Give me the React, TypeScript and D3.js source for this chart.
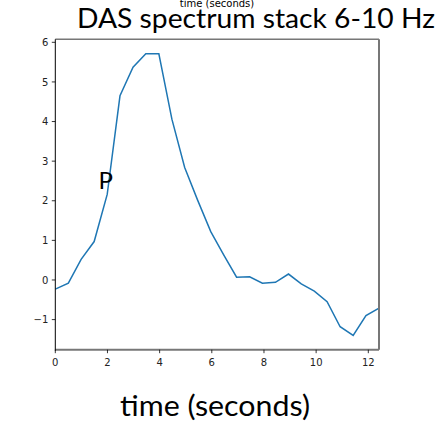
import React from "react";
import * as d3 from "d3";

const times = [0, 0.5, 0.99, 1.49, 1.99, 2.48, 2.98, 3.47, 3.97, 4.47, 4.96, 5.46, 5.96, 6.45, 6.95, 7.45, 7.94, 8.44, 8.94, 9.43, 9.93, 10.42, 10.92, 11.42, 11.91, 12.41];
const values = [-0.23, -0.08, 0.52, 0.97, 2.16, 4.65, 5.37, 5.71, 5.71, 4.06, 2.84, 2.01, 1.22, 0.64, 0.07, 0.08, -0.08, -0.06, 0.15, -0.1, -0.28, -0.55, -1.18, -1.4, -0.9, -0.71];
const xTicks = [0, 2, 4, 6, 8, 10, 12];
const yTicks = [-1, 0, 1, 2, 3, 4, 5, 6];
const title = "DAS spectrum stack 6-10 Hz";
const xLabel = "time (seconds)";
const phaseLabel = "P";

export default function App() {
  const left = 55.3, right = 379, top = 39.3, bottom = 349.7;
  const x = d3.scaleLinear().domain([0, 12.41]).range([left, right]);
  const y = d3.scaleLinear().domain([-1.76, 6.076]).range([bottom, top]);
  const line = d3.line<number>().x((_, i) => x(times[i])).y((d) => y(d));
  const tickFont = "'DejaVu Sans', sans-serif";
  const big = "Lato, 'Open Sans', sans-serif";
  return (
    <svg width={438} height={421} style={{ position: "absolute", left: 0, top: 0 }}>
      <rect x={0} y={0} width={438} height={421} fill="white" />
      <text x={217} y={7} fontSize={10} fontFamily={tickFont} textAnchor="middle" fill="#000">{xLabel}</text>
      <defs>
        <clipPath id="plotclip">
          <rect x={left} y={top} width={right - left} height={bottom - top} />
        </clipPath>
      </defs>
      <path d={line(values) || ""} fill="none" stroke="#1f77b4" strokeWidth={1.5} clipPath="url(#plotclip)" />
      <line x1={left} x2={right} y1={top} y2={top} stroke="#777" strokeWidth={1.5} />
      <line x1={right} x2={right} y1={top} y2={bottom} stroke="#777" strokeWidth={2} />
      <line x1={left} x2={right} y1={bottom} y2={bottom} stroke="#777" strokeWidth={2} />
      <line x1={left} x2={left} y1={top} y2={bottom + 1} stroke="#000" strokeWidth={1} />
      {yTicks.map((t) => (
        <g key={"y" + t}>
          <line x1={left - 3.5} x2={left} y1={y(t)} y2={y(t)} stroke="#000" strokeWidth={0.8} />
          <text x={left - 7} y={y(t) + 3.6} fontSize={10} fontFamily={tickFont} textAnchor="end" fill="#222">
            {t < 0 ? "\u2212" + Math.abs(t) : String(t)}
          </text>
        </g>
      ))}
      {xTicks.map((t) => (
        <g key={"x" + t}>
          <line x1={x(t)} x2={x(t)} y1={bottom} y2={bottom + 3.5} stroke="#000" strokeWidth={0.8} />
          <text x={x(t)} y={365.5} fontSize={10} fontFamily={tickFont} textAnchor="middle" fill="#222">{String(t)}</text>
        </g>
      ))}
      <text x={77} y={28} fontSize={27} fontFamily={big} fill="#000" textLength={358} lengthAdjust="spacingAndGlyphs">{title}</text>
      <text x={120} y={416} fontSize={29} fontFamily={big} fill="#000" textLength={190} lengthAdjust="spacingAndGlyphs">{xLabel}</text>
      <text x={98.5} y={189} fontSize={24} fontFamily={big} fill="#000">{phaseLabel}</text>
    </svg>
  );
}
